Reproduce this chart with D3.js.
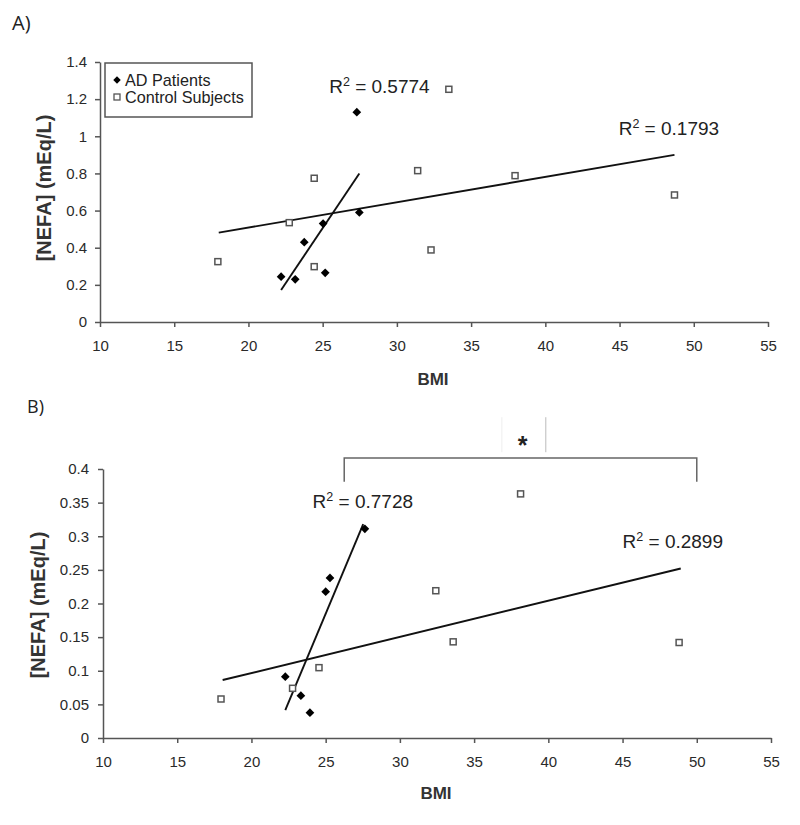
<!DOCTYPE html>
<html><head><meta charset="utf-8">
<script src="https://cdn.jsdelivr.net/npm/d3@7"></script>
<style>body{margin:0;background:#fff}svg{display:block}</style>
</head><body>
<svg id="c" width="800" height="825"></svg>
<script>
// ---------- DATA ----------
const xTicks = [10,15,20,25,30,35,40,45,50,55];
const yTicksA = [0,0.2,0.4,0.6,0.8,1,1.2,1.4];
const yTicksB = [0,0.05,0.1,0.15,0.2,0.25,0.3,0.35,0.4];

const adA_bmi   = [22.2,23.15,23.76,25.03,25.17,27.47,27.3];
const adA_nefa  = [0.244,0.23,0.43,0.53,0.265,0.59,1.13];
const ctA_bmi   = [17.94,22.75,24.43,24.43,31.4,32.3,33.5,37.96,48.7];
const ctA_nefa  = [0.325,0.535,0.774,0.298,0.815,0.388,1.253,0.788,0.684];
const trendAdA  = [[22.2,0.172],[27.47,0.80]];
const trendCtA  = [[18.0,0.481],[48.7,0.90]];
const r2A = ["0.5774","0.1793"];

const adB_bmi   = [22.28,23.33,23.94,25.0,25.29,27.64];
const adB_nefa  = [0.0912,0.063,0.0377,0.2176,0.238,0.311];
const ctB_bmi   = [17.95,22.77,24.55,32.42,33.59,38.13,48.81];
const ctB_nefa  = [0.058,0.0739,0.1046,0.219,0.143,0.363,0.142];
const trendAdB  = [[22.28,0.0416],[27.53,0.318]];
const trendCtB  = [[18.06,0.0862],[48.92,0.252]];
const r2B = ["0.7728","0.2899"];

const legendLabels = ["AD Patients","Control Subjects"];
const bracketX = [26.25,50];
const bracketY = [0.381,0.4164];

// ---------- DRAW ----------
const svg = d3.select("#c");
const FONT = "'Liberation Sans', Arial, sans-serif";

function panel(cfg){
  const x = d3.scaleLinear().domain([10,55]).range(cfg.xr);
  const y = d3.scaleLinear().domain(cfg.yd).range(cfg.yr);
  const g = svg.append("g");

  const xa = g.append("g").attr("transform",`translate(0,${cfg.yr[0]})`)
    .call(d3.axisBottom(x).tickValues(xTicks).tickSize(5).tickSizeOuter(0).tickPadding(13).tickFormat(d3.format("d")));
  const ya = g.append("g").attr("transform",`translate(${cfg.xr[0]},0)`)
    .call(d3.axisLeft(y).tickValues(cfg.yt).tickSize(5).tickSizeOuter(0).tickPadding(cfg.ypad).tickFormat(d=>String(+d.toFixed(2))));
  [xa,ya].forEach(a=>{
    a.selectAll("path,line").attr("stroke","#555").attr("stroke-width",1.5);
    a.selectAll("text").attr("fill","#2a2a2a").style("font-family",FONT).style("font-size","15px");
  });

  // trend lines
  const line = d3.line().x(d=>x(d[0])).y(d=>y(d[1]));
  [cfg.tAd,cfg.tCt].forEach(t=>{
    g.append("path").attr("d",line(t)).attr("stroke","#111").attr("stroke-width",1.9).attr("fill","none");
  });

  // control squares
  g.selectAll(".sq").data(d3.range(cfg.ctx.length)).join("rect")
    .attr("x",i=>x(cfg.ctx[i])-3).attr("y",i=>y(cfg.cty[i])-3)
    .attr("width",6).attr("height",6)
    .attr("fill","#fff").attr("stroke","#555").attr("stroke-width",1.5);
  // AD diamonds
  const dia = d3.symbol().type(d3.symbolSquare).size(38);
  g.selectAll(".dm").data(d3.range(cfg.adx.length)).join("path")
    .attr("d",dia)
    .attr("transform",i=>`translate(${x(cfg.adx[i])},${y(cfg.ady[i])}) rotate(45)`)
    .attr("fill","#000");

  // R^2 labels
  cfg.r2.forEach((v,i)=>{
    const p = cfg.r2pos[i];
    const t = g.append("text").attr("x",x(p[0])).attr("y",y(p[1]))
      .style("font-family",FONT).style("font-size","19px").attr("fill","#222");
    t.append("tspan").text("R");
    t.append("tspan").text("2").attr("dy","-7").style("font-size","12.5px");
    t.append("tspan").text(" = "+v).attr("dy","7");
  });

  // axis titles
  g.append("text").attr("x",(cfg.xr[0]+cfg.xr[1])/2-1).attr("y",cfg.bmiY)
    .attr("text-anchor","middle").style("font-family",FONT).style("font-weight","bold")
    .style("font-size","17px").attr("fill","#333").text("BMI");
  g.append("text").attr("transform",`translate(${cfg.ylabX},${cfg.ylabY}) rotate(-90)`)
    .attr("text-anchor","middle").style("font-family",FONT).style("font-weight","bold")
    .style("font-size","20px").attr("fill","#333").text("[NEFA] (mEq/L)");

  // panel letter
  g.append("text").attr("x",cfg.letterPos[0]).attr("y",cfg.letterPos[1])
    .style("font-family","'Open Sans', 'Noto Sans', sans-serif").style("font-size",cfg.letterSize)
    .attr("fill","#222").text(cfg.letter);
  return {x,y,g};
}

const A = panel({xr:[100,768], yd:[0,1.4], yr:[322,62], yt:yTicksA, ypad:8,
  adx:adA_bmi, ady:adA_nefa, ctx:ctA_bmi, cty:ctA_nefa, tAd:trendAdA, tCt:trendCtA,
  r2:r2A, r2pos:[[25.44,1.233],[44.94,1.007]], bmiY:385, ylabX:51, ylabY:188,
  letter:"A)", letterPos:[12,30], letterSize:"20px"});

const B = panel({xr:[103,771], yd:[0,0.4], yr:[738,469], yt:yTicksB, ypad:9,
  adx:adB_bmi, ady:adB_nefa, ctx:ctB_bmi, cty:ctB_nefa, tAd:trendAdB, tCt:trendCtB,
  r2:r2B, r2pos:[[24.12,0.342],[45.0,0.2825]], bmiY:799, ylabX:45, ylabY:605,
  letter:"B)", letterPos:[27,413], letterSize:"18px"});

// legend (panel A)
const lg = svg.append("g");
lg.append("rect").attr("x",105).attr("y",63).attr("width",147).attr("height",54)
  .attr("fill","#fff").attr("stroke","#555").attr("stroke-width",1.5);
legendLabels.forEach((l,i)=>{
  const cy = 80 + i*17;
  if(i===0){
    lg.append("path").attr("d",d3.symbol().type(d3.symbolSquare).size(28)())
      .attr("transform",`translate(117,${cy}) rotate(45)`).attr("fill","#000");
  } else {
    lg.append("rect").attr("x",114).attr("y",cy-3).attr("width",6).attr("height",6)
      .attr("fill","#fff").attr("stroke","#555").attr("stroke-width",1.3);
  }
  lg.append("text").attr("x",125).attr("y",cy+5.5).style("font-family",FONT)
    .style("font-size","16.2px").attr("fill","#222").text(l);
});

// significance bracket (panel B)
const bx = B.x, by = B.y;
B.g.append("path")
  .attr("d",`M${bx(bracketX[0])},${by(bracketY[0])}V${by(bracketY[1])}H${bx(bracketX[1])}V${by(bracketY[0])}`)
  .attr("fill","none").attr("stroke","#666").attr("stroke-width",1.5);
B.g.append("line").attr("x1",bx(39.83)).attr("x2",bx(39.83)).attr("y1",by(0.477)).attr("y2",by(0.425))
  .attr("stroke","#bbb").attr("stroke-width",1);
B.g.append("line").attr("x1",bx(36.87)).attr("x2",bx(36.87)).attr("y1",by(0.477)).attr("y2",by(0.425))
  .attr("stroke","#eee").attr("stroke-width",1);
B.g.append("text").attr("x",bx(38.26)).attr("y",by(0.4406)+12).attr("text-anchor","middle")
  .style("font-family",FONT).style("font-size","25px").style("font-weight","bold").attr("fill","#222").text("*");
</script>
</body></html>
